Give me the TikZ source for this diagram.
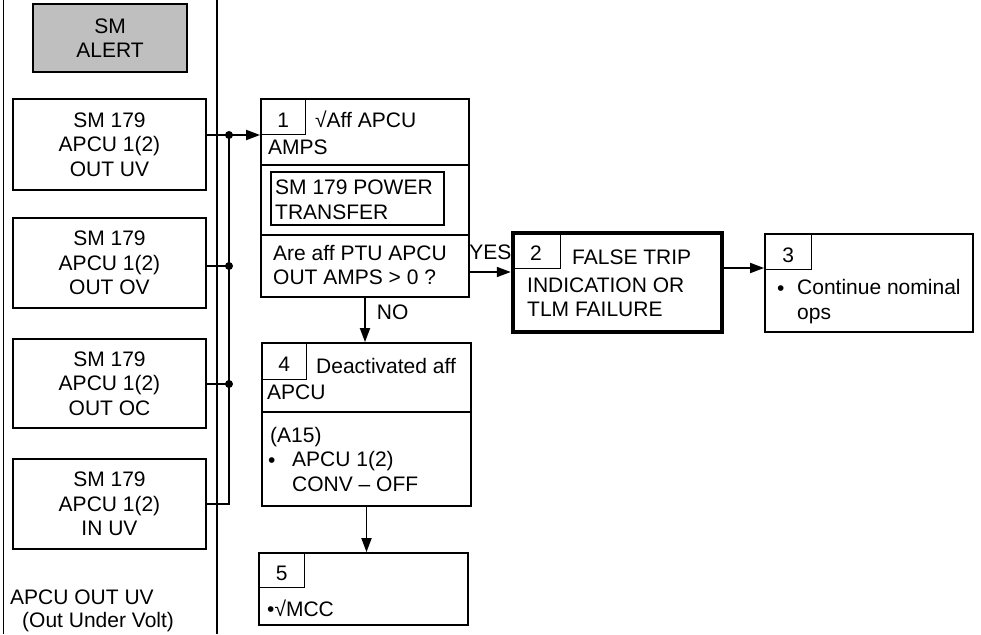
\documentclass[tikz,border=0pt]{standalone}
\usepackage{fontspec}
\setmainfont{Liberation Sans}
\usepackage{tikz}
\usetikzlibrary{arrows.meta, fit}

\begin{document}
\begin{tikzpicture}[x=1pt, y=-1pt,
    font=\fontsize{21}{24.5}\selectfont,
    blk/.style={draw, line width=1.8pt, inner sep=0pt, align=center},
    src/.style={blk, minimum width=193pt, minimum height=90pt},
    num/.style={draw, line width=1.3pt, anchor=north west, inner sep=0pt,
                minimum width=45pt, minimum height=36pt,
                text height=21pt, text depth=0pt},
    txt/.style={anchor=north west, inner sep=0pt, align=left},
    bul/.style={anchor=base west, inner sep=0pt},
    a/.style={-{Triangle[length=14pt, width=10pt]}, line width=1.8pt},
    jn/.style={circle, fill, inner sep=0pt, minimum size=8pt}]
  \useasboundingbox (0,0) rectangle (981,634);
  \draw[line width=1.6pt] (3.5,0) -- (3.5,634) (217,0) -- (217,634);

  \node[blk, fill=black!25, minimum width=154pt, minimum height=68pt] (alert) at (110,38) {SM\\ALERT};
  \node[src, minimum height=91pt] (uv) at (109.5,144.5) {SM 179\\APCU 1(2)\\OUT UV};
  \node[src] (ov) at (109.5,263) {SM 179\\APCU 1(2)\\OUT OV};
  \node[src, minimum height=89pt] (oc) at (109.5,383.5) {SM 179\\APCU 1(2)\\OUT OC};
  \node[src] (iuv) at (109.5,504) {SM 179\\APCU 1(2)\\IN UV};
  \node[txt] (note1) at (10,590) {APCU OUT UV};
  \node[txt] (note2) at (22,612) {(Out Under Volt)};

  \node[blk, fit={(261,99) (469,297)}] (s1) {};
  \node[num] (n1) at (s1.north west) {1};
  \node[txt] (t1) at (315,111) {√Aff APCU};
  \node[txt] (t1b) at (268,140) {AMPS};
  \draw[line width=1.8pt] (s1.west |- 0,165) -- (s1.east |- 0,165)
                          (s1.west |- 0,235) -- (s1.east |- 0,235);
  \node[blk, line width=1.6pt, fit={(271,172) (444,225)}] (pt) {};
  \node[txt] (ptx) at (275,180) {SM 179 POWER\\TRANSFER};
  \node[txt] (q1) at (273,245) {Are aff PTU APCU\\OUT AMPS > 0 ?};

  \node[blk, line width=4.5pt, fit={(513,233) (722,332)}] (s2) {};
  \node[num, minimum width=49pt, minimum height=37pt] (n2) at (s2.north west) {2};
  \node[txt] (t2) at (572,250) {FALSE TRIP};
  \node[txt] (t2b) at (527,277.5) {INDICATION OR\\TLM FAILURE};

  \node[blk, fit={(765,234) (973,332)}] (s3) {};
  \node[num, minimum width=47pt] (n3) at (s3.north west) {3};
  \node[bul] (b3) at (777,295) {•};
  \node[txt] (t3) at (797,279.5) {Continue nominal\\ops};

  \node[blk, fit={(262,343) (471,506)}] (s4) {};
  \node[num, minimum height=37pt] (n4) at (s4.north west) {4};
  \node[txt] (t4) at (316,358.5) {Deactivated aff};
  \node[txt] (t4b) at (267,384.5) {APCU};
  \draw[line width=1.8pt] (s4.west |- 0,412) -- (s4.east |- 0,412);
  \node[txt] (t4c) at (270,427.5) {(A15)};
  \node[bul] (b4) at (268,467) {•};
  \node[txt] (t4d) at (292,451.5) {APCU 1(2)\\CONV – OFF};

  \node[blk, fit={(259,553) (468,625)}] (s5) {};
  \node[num, minimum width=46pt, minimum height=35pt] (n5) at (s5.north west) {5};
  \node[bul] (t5) at (267,616) {•√MCC};

  \coordinate (j1) at (229,135);
  \coordinate (j2) at (229,266);
  \coordinate (j3) at (229,384);
  \draw[line width=1.8pt] (uv.east |- j1) -- (j1)
                          (ov.east |- j2) -- (j2)
                          (oc.east |- j3) -- (j3)
                          (iuv.east) -| (j1);
  \draw[a] (j1) -- (s1.west |- j1);
  \node[jn] at (j1) {};
  \node[jn] at (j2) {};
  \node[jn] at (j3) {};

  \draw[a] (s1.east |- 0,272) -- (s2.west |- 0,272)
    node[midway, above=11pt, inner sep=0pt] {YES};
  \draw[a] (s2.east |- 0,268) -- (s3.west |- 0,268);
  \draw[a] (s1.south) -- (s1.south |- s4.north)
    node[pos=0.32, right=11pt, inner sep=0pt] {NO};
  \draw[a] (s4.south) -- (s4.south |- s5.north);
\end{tikzpicture}
\end{document}
